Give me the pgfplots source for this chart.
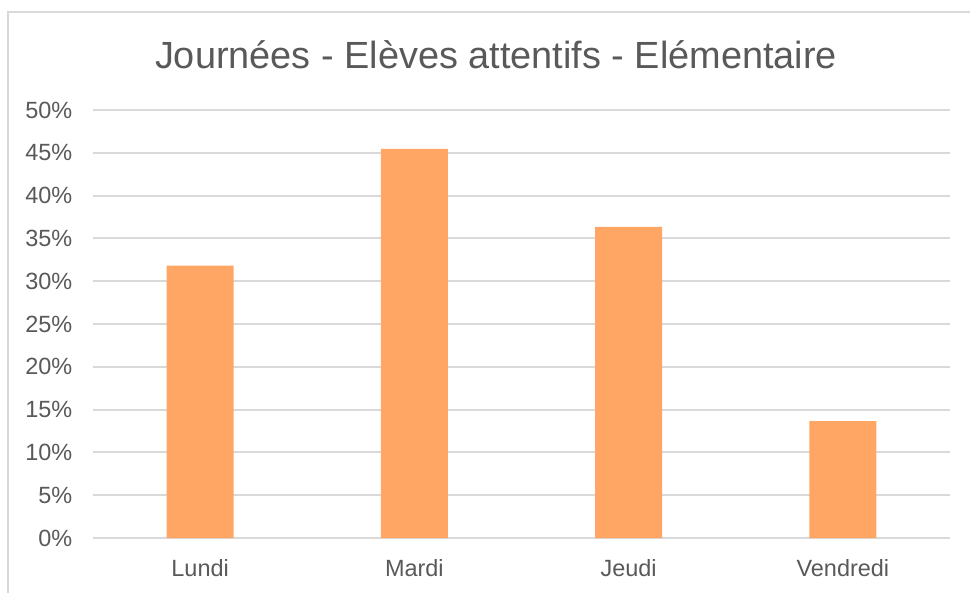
\documentclass[border=0pt]{standalone}
\usepackage{fontspec}
\setmainfont{Liberation Sans}
\usepackage{pgfplots}
\pgfplotsset{compat=1.18}
\definecolor{txt}{HTML}{595959}
\definecolor{grd}{HTML}{D9D9D9}
\definecolor{bar}{HTML}{FFA664}
\begin{document}
\begin{tikzpicture}
\useasboundingbox (0pt,0pt) rectangle (727.5pt,444pt);
\draw[grd,line width=1.5pt] (6pt,-10pt) -- (6pt,435pt) -- (740pt,435pt);
\node[text=txt,font=\fontsize{28.4}{32}\selectfont] at (372pt,402.75pt) {Journées - Elèves attentifs - Elémentaire};
\begin{axis}[
  at={(69.75pt,40.5pt)}, anchor=south west,
  scale only axis, width=642.75pt, height=321pt,
  xmin=-0.5, xmax=3.5, ymin=0, ymax=50,
  ytick={0,5,...,50},
  xtick={0,1,2,3},
  xticklabels={Lundi,Mardi,Jeudi,Vendredi},
  yticklabel={\pgfmathprintnumber{\tick}\%},
  /pgf/number format/assume math mode=true,
  ymajorgrids, grid style={grd,line width=1.5pt},
  axis line style={draw=none},
  axis x line*=bottom,
  x axis line style={grd,line width=1.5pt},
  major tick length=0pt,
  tick label style={text=txt,font=\fontsize{17.6}{20}\selectfont},
  yticklabel style={xshift=-12pt},
  xticklabel style={yshift=-12.5pt},
  ybar, bar width=50.25pt,
]
\addplot[fill=bar,draw=none] coordinates {(0,31.82) (1,45.45) (2,36.36) (3,13.64)};
\end{axis}
\end{tikzpicture}
\end{document}
